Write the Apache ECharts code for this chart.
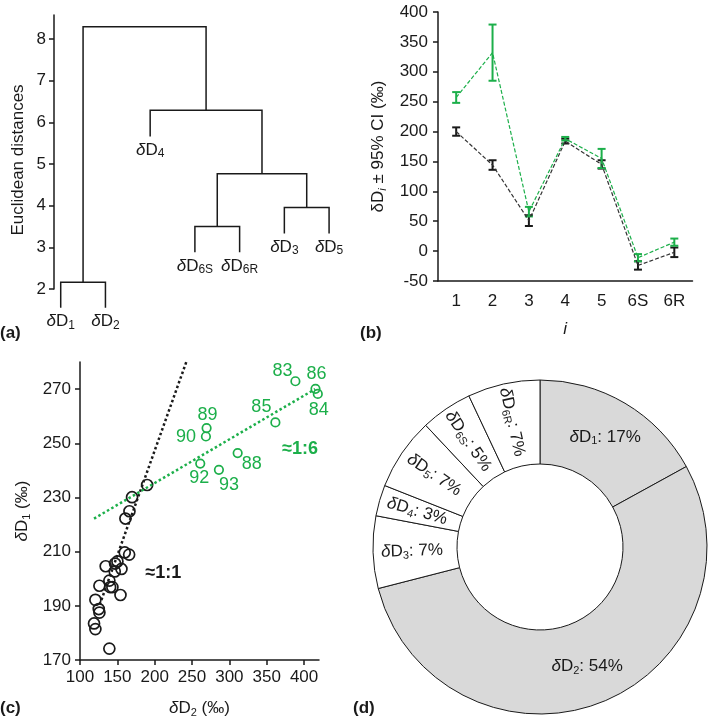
<!DOCTYPE html>
<html><head><meta charset="utf-8">
<script src="https://cdn.jsdelivr.net/npm/echarts@6/dist/echarts.min.js"></script>
<style>html,body{margin:0;padding:0;background:#fff}#c{width:709px;height:722px}</style>
</head><body><div id="c"></div>
<script>
// ---------- (a) dendrogram ----------
const leafSubs = ['1', '2', '4', '6S', '6R', '3', '5'];
const leafBottoms = [1.55, 1.55, 5.66, 2.88, 2.88, 3.33, 3.33];
// [left node, right node, height]; nodes 0-6 are leaves, 7+ are merges in order
const merges = [[0, 1, 2.16], [3, 4, 3.50], [5, 6, 3.96], [8, 9, 4.77], [2, 10, 6.29], [7, 11, 8.30]];
const distTicks = [2, 3, 4, 5, 6, 7, 8];

// ---------- (b) means ± 95% CI ----------
const bCats = ['1', '2', '3', '4', '5', '6S', '6R'];
const bBlackMean = [200, 144, 51, 184, 145, -24, -2];
const bBlackCI = [7, 8, 9, 4, 7, 7, 8];
const bGreenMean = [257, 332, 66, 188, 155, -11, 15];
const bGreenCI = [9, 47, 8, 3, 16, 6, 6];

// ---------- (c) scatter ----------
const cBlackX = [189.9, 169.7, 166.2, 160.8, 159.9, 165.8, 150.1, 147.0, 134.4, 155.5, 146.5, 139.3, 126.0, 140.3, 143.4, 154.2, 120.6, 125.1, 126.0, 118.8, 120.6, 139.3];
const cBlackY = [234.6, 230.1, 224.9, 222.2, 209.7, 208.9, 206.4, 205.6, 204.6, 203.6, 202.7, 199.3, 197.4, 196.9, 196.9, 194.0, 192.2, 188.8, 187.5, 183.5, 181.4, 174.2];
const cGreenNames = ['83', '86', '84', '85', '89', '90', '88', '92', '93'];
const cGreenX = [388.4, 415.3, 418.4, 361.6, 269.5, 268.6, 311.1, 261.0, 286.0];
const cGreenY = [272.9, 270.1, 268.2, 257.7, 255.6, 252.5, 246.4, 242.5, 240.2];
const cLine11 = [[126.4, 190.4], [242.7, 280.3]];
const cLine16 = [[118.8, 222.2], [414.8, 270.0]];
const cXTicks = [100, 150, 200, 250, 300, 350, 400];
const cYTicks = [170, 190, 210, 230, 250, 270];

// ---------- (d) donut ----------
const dSubs = ['1', '2', '3', '4', '5', '6S', '6R'];
const dShares = [17, 54, 7, 3, 7, 5, 7];

// ---------- styling ----------
const FONT = 'Liberation Sans, Arial, Helvetica, sans-serif';
const GREEN = '#1caf4a';
const INK = '#1a1a1a';
const greenLabelOffsets = [[-13, -10], [1, -15], [1, 16], [-14, -15], [1, -13], [-20, 1], [14, 11], [-1, 14], [10, 15]];

// build dendrogram geometry from the data
const nodeX = leafSubs.map((_, i) => i + 1);
const nodeY = leafBottoms.slice();
const dendroData = merges.map(([l, r, h]) => {
  const row = [nodeX[l], nodeY[l], nodeX[r], nodeY[r], h];
  nodeX.push((nodeX[l] + nodeX[r]) / 2);
  nodeY.push(h);
  return row;
});

const richA = {
  d: {fontSize: 17, fontStyle: 'italic', fontFamily: FONT, lineHeight: 20, color: INK},
  n: {fontSize: 17, fontFamily: FONT, lineHeight: 20, color: INK},
  s: {fontSize: 12, fontFamily: FONT, lineHeight: 17, verticalAlign: 'bottom', color: INK}
};
function richSub(size, color) {
  return {
    d: {fontSize: size, fontStyle: 'italic', fontFamily: FONT, lineHeight: size + 3, color: color},
    u: {fontSize: size, fontFamily: FONT, lineHeight: size + 3, color: color},
    n: {fontSize: size, fontFamily: FONT, lineHeight: size + 3, color: color},
    s: {fontSize: Math.round(size * 0.65), fontFamily: FONT, lineHeight: 9, verticalAlign: 'bottom', color: color},
    si: {fontSize: Math.round(size * 0.65), fontStyle: 'italic', fontFamily: FONT, lineHeight: 9, verticalAlign: 'bottom', color: color}
  };
}

const axisLineStyle = {color: INK, width: 1.5};
const tickLabel = {fontSize: 17, fontFamily: FONT, color: INK};

const option = {
  animation: false,
  backgroundColor: '#fff',
  grid: [
    {left: 54, top: 15, width: 288.5, height: 274},
    {left: 438, top: 12, width: 254.5, height: 269},
    {left: 80, top: 362, width: 239, height: 298}
  ],
  xAxis: [
    {gridIndex: 0, type: 'value', min: 0.85, max: 7.3, show: false},
    {gridIndex: 1, type: 'category', data: bCats,
      axisLine: {onZero: false, lineStyle: axisLineStyle}, axisTick: {length: 5, lineStyle: axisLineStyle},
      axisLabel: Object.assign({margin: 12}, tickLabel),
      name: 'i', nameLocation: 'middle', nameGap: 40,
      nameTextStyle: {fontSize: 17, fontStyle: 'italic', fontFamily: FONT, color: INK}},
    {gridIndex: 2, type: 'value', min: 100, max: 420,
      axisLine: {onZero: false, lineStyle: axisLineStyle},
      axisTick: {length: 5, lineStyle: axisLineStyle, customValues: cXTicks},
      axisLabel: Object.assign({margin: 9, customValues: cXTicks}, tickLabel),
      splitLine: {show: false},
      name: '{d|δ}{u|D}{s|2}{n| (‰)}', nameLocation: 'middle', nameGap: 38,
      nameTextStyle: {rich: richSub(17, INK)}}
  ],
  yAxis: [
    {gridIndex: 0, type: 'value', min: 2, max: 8.58,
      axisLine: {show: true, onZero: false, lineStyle: axisLineStyle},
      axisTick: {show: true, length: 5, lineStyle: axisLineStyle, customValues: distTicks},
      axisLabel: Object.assign({margin: 8, customValues: distTicks}, tickLabel),
      splitLine: {show: false},
      name: 'Euclidean distances', nameLocation: 'middle', nameGap: 27,
      nameTextStyle: {fontSize: 17, fontFamily: FONT, color: INK, padding: [0, 16, 0, 0]}},
    {gridIndex: 1, type: 'value', min: -50, max: 400, interval: 50,
      axisLine: {show: true, onZero: false, lineStyle: axisLineStyle},
      axisTick: {show: true, length: 5, lineStyle: axisLineStyle},
      axisLabel: Object.assign({margin: 10}, tickLabel),
      splitLine: {show: false},
      name: '{u|δD}{si|i}{n| ± 95% CI (‰)}', nameLocation: 'middle', nameGap: 50,
      nameTextStyle: {rich: richSub(17, INK)}},
    {gridIndex: 2, type: 'value', min: 170, max: 280,
      axisLine: {show: true, onZero: false, lineStyle: axisLineStyle},
      axisTick: {show: true, length: 5, lineStyle: axisLineStyle, customValues: cYTicks},
      axisLabel: Object.assign({margin: 9, customValues: cYTicks}, tickLabel),
      splitLine: {show: false},
      name: '{d|δ}{u|D}{s|1}{n| (‰)}', nameLocation: 'middle', nameGap: 48,
      nameTextStyle: {rich: richSub(17, INK)}}
  ],
  series: [
    // (a) dendrogram links
    {type: 'custom', xAxisIndex: 0, yAxisIndex: 0, silent: true,
      encode: {x: [0, 2], y: [1, 3, 4]},
      data: dendroData,
      renderItem: function (params, api) {
        const a = api.coord([api.value(0), api.value(1)]);
        const b = api.coord([api.value(0), api.value(4)]);
        const c = api.coord([api.value(2), api.value(4)]);
        const d = api.coord([api.value(2), api.value(3)]);
        return {type: 'polyline', shape: {points: [a, b, c, d]},
          style: {stroke: INK, lineWidth: 1.5, fill: null}};
      }},
    // (a) leaf labels
    {type: 'scatter', xAxisIndex: 0, yAxisIndex: 0, silent: true, clip: false,
      symbolSize: 1, itemStyle: {color: 'rgba(0,0,0,0)', opacity: 1},
      data: leafSubs.map((s, i) => [i + 1, leafBottoms[i]]),
      label: {show: true, position: 'bottom', distance: 3, color: INK,
        formatter: p => '{d|δ}{n|D}{s|' + leafSubs[p.dataIndex] + '}', rich: richA}},
    // (b) dashed mean lines
    {type: 'line', xAxisIndex: 1, yAxisIndex: 1, data: bBlackMean, symbol: 'none', silent: true,
      lineStyle: {color: '#333', width: 1.2, type: [4, 2]}},
    {type: 'line', xAxisIndex: 1, yAxisIndex: 1, data: bGreenMean, symbol: 'none', silent: true,
      lineStyle: {color: GREEN, width: 1.2, type: [4, 2]}},
    // (b) error bars
    {type: 'custom', xAxisIndex: 1, yAxisIndex: 1, silent: true,
      data: bBlackMean.map((m, i) => [i, m, bBlackCI[i]]),
      encode: {x: 0, y: 1},
      renderItem: errRender('#1a1a1a')},
    {type: 'custom', xAxisIndex: 1, yAxisIndex: 1, silent: true,
      data: bGreenMean.map((m, i) => [i, m, bGreenCI[i]]),
      encode: {x: 0, y: 1},
      renderItem: errRender(GREEN)},
    // (c) trend lines
    {type: 'line', xAxisIndex: 2, yAxisIndex: 2, data: cLine11, symbol: 'none', silent: true,
      lineStyle: {color: INK, width: 2.5, type: 'dotted'}},
    {type: 'line', xAxisIndex: 2, yAxisIndex: 2, data: cLine16, symbol: 'none', silent: true,
      lineStyle: {color: GREEN, width: 2.5, type: 'dotted'}},
    // (c) black points
    {type: 'scatter', xAxisIndex: 2, yAxisIndex: 2, silent: true, clip: false,
      symbol: 'circle', symbolSize: 11,
      itemStyle: {color: 'rgba(255,255,255,0)', borderColor: INK, borderWidth: 1.7, opacity: 1},
      data: cBlackX.map((x, i) => [x, cBlackY[i]])},
    // (c) green points with labels
    {type: 'scatter', xAxisIndex: 2, yAxisIndex: 2, silent: true, clip: false,
      symbol: 'circle', symbolSize: 8.5,
      itemStyle: {color: 'rgba(255,255,255,0)', borderColor: GREEN, borderWidth: 1.7, opacity: 1},
      data: cGreenX.map((x, i) => ({value: [x, cGreenY[i]], name: cGreenNames[i],
        label: {offset: greenLabelOffsets[i]}})),
      label: {show: true, position: 'inside', formatter: '{b}', fontSize: 18,
        fontFamily: FONT, color: GREEN}},
    // (c) slope annotations
    {type: 'scatter', xAxisIndex: 2, yAxisIndex: 2, silent: true, symbolSize: 1,
      itemStyle: {color: 'rgba(0,0,0,0)', opacity: 1},
      data: [{value: [211.6, 202.1], name: '≈1:1', label: {color: INK}},
             {value: [394.7, 247.8], name: '≈1:6', label: {color: GREEN}}],
      label: {show: true, position: 'inside', formatter: '{b}', fontSize: 18,
        fontWeight: 'bold', fontFamily: FONT}},
    // (d) donut
    {type: 'pie', center: [540, 547], radius: [83, 167], startAngle: 90, clockwise: true,
      silent: true, avoidLabelOverlap: false,
      itemStyle: {borderColor: INK, borderWidth: 1},
      labelLine: {show: false},
      label: {show: true, position: 'inside',
        formatter: p => '{d|δ}{u|D}{s|' + dSubs[p.dataIndex] + '}{n|: ' + p.value + '%}',
        rich: richSub(17, INK)},
      data: dShares.map((v, i) => ({value: v, name: 'δD' + dSubs[i],
        itemStyle: {color: i < 2 ? '#d9d9d9' : '#ffffff'},
        label: {rotate: i < 2 ? 0 : 'radial'}}))}
  ],
  graphic: [
    {type: 'text', x: 0, y: 333, style: {text: '(a)', fontSize: 17, fontWeight: 'bold', fontFamily: FONT, fill: INK, verticalAlign: 'middle'}},
    {type: 'text', x: 360, y: 333, style: {text: '(b)', fontSize: 17, fontWeight: 'bold', fontFamily: FONT, fill: INK, verticalAlign: 'middle'}},
    {type: 'text', x: 0, y: 708, style: {text: '(c)', fontSize: 17, fontWeight: 'bold', fontFamily: FONT, fill: INK, verticalAlign: 'middle'}},
    {type: 'text', x: 353, y: 708, style: {text: '(d)', fontSize: 17, fontWeight: 'bold', fontFamily: FONT, fill: INK, verticalAlign: 'middle'}}
  ]
};

function errRender(color) {
  return function (params, api) {
    const x = api.value(0), m = api.value(1), e = api.value(2);
    const t = api.coord([x, m + e]);
    const b = api.coord([x, m - e]);
    const w = 4;
    const st = {stroke: color, lineWidth: 2};
    return {type: 'group', children: [
      {type: 'line', shape: {x1: t[0], y1: t[1], x2: b[0], y2: b[1]}, style: st},
      {type: 'line', shape: {x1: t[0] - w, y1: t[1], x2: t[0] + w, y2: t[1]}, style: st},
      {type: 'line', shape: {x1: b[0] - w, y1: b[1], x2: b[0] + w, y2: b[1]}, style: st}
    ]};
  };
}

const chart = echarts.init(document.getElementById('c'), null, {renderer: 'canvas'});
chart.setOption(option);
</script>
</body></html>
